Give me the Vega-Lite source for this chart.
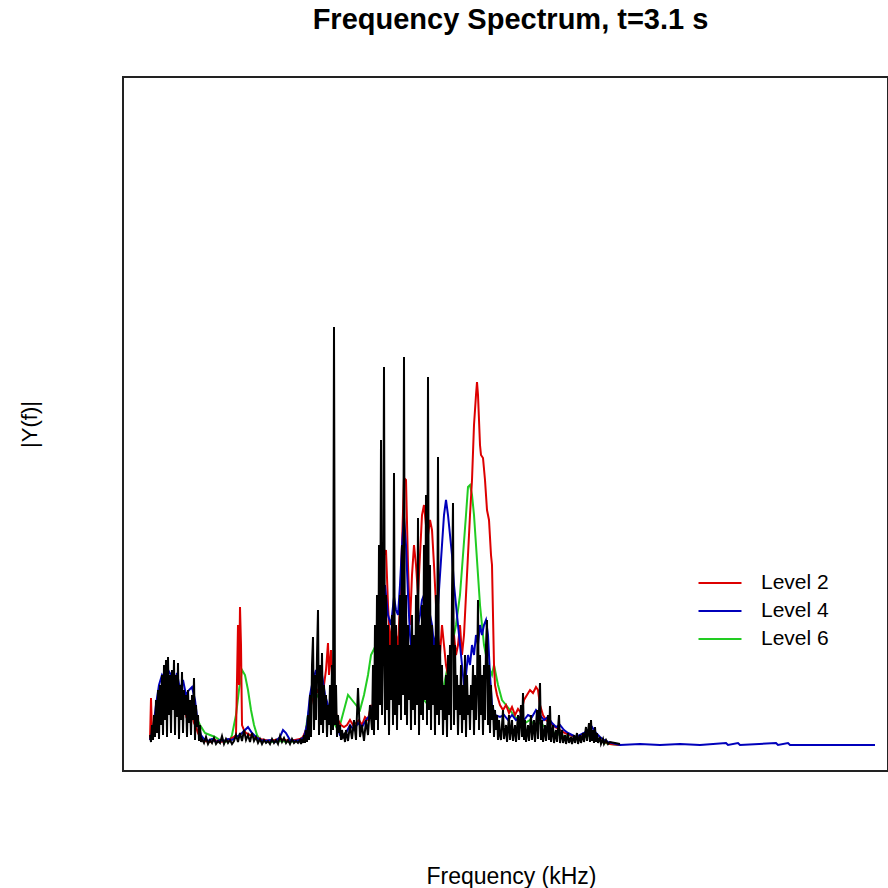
{
"$schema":"https://vega.github.io/schema/vega-lite/v6.json",
"width":765,"height":694,
"autosize":{"type":"none"},
"padding":{"left":123,"top":77,"right":0,"bottom":117},
"background":"white",
"title":{"text":"Frequency Spectrum, t=3.1 s","font":"Liberation Sans","fontSize":29,"fontWeight":"bold","color":"#000","anchor":"middle","baseline":"alphabetic","offset":19,"dx":5},
"config":{"view":{"stroke":"#222","strokeWidth":2}},
"datasets":{
"black":[{"f":0,"y":10},{"f":1,"y":3},{"f":2,"y":20},{"f":3,"y":5},{"f":4,"y":30},{"f":5,"y":8},{"f":6,"y":45},{"f":7,"y":12},{"f":8,"y":55},{"f":9,"y":6},{"f":10,"y":60},{"f":11,"y":20},{"f":12,"y":70},{"f":13,"y":10},{"f":14,"y":80},{"f":15,"y":25},{"f":16,"y":85},{"f":17,"y":8},{"f":18,"y":88},{"f":19,"y":30},{"f":20,"y":70},{"f":21,"y":12},{"f":22,"y":75},{"f":23,"y":35},{"f":24,"y":85},{"f":25,"y":10},{"f":26,"y":70},{"f":27,"y":28},{"f":28,"y":82},{"f":29,"y":6},{"f":30,"y":60},{"f":31,"y":25},{"f":32,"y":73},{"f":33,"y":12},{"f":34,"y":55},{"f":35,"y":30},{"f":36,"y":50},{"f":37,"y":8},{"f":38,"y":55},{"f":39,"y":22},{"f":40,"y":45},{"f":41,"y":10},{"f":42,"y":50},{"f":43,"y":25},{"f":44,"y":67},{"f":45,"y":5},{"f":46,"y":40},{"f":47,"y":18},{"f":48,"y":30},{"f":49,"y":4},{"f":50,"y":20},{"f":51,"y":3},
{"f":52,"y":6},{"f":54,"y":2},{"f":56,"y":8},{"f":58,"y":1},{"f":60,"y":5},{"f":62,"y":2},{"f":64,"y":7},{"f":66,"y":1},{"f":68,"y":4},{"f":70,"y":2},{"f":72,"y":9},{"f":74,"y":1},{"f":76,"y":6},{"f":78,"y":2},{"f":80,"y":5},{"f":82,"y":1},{"f":84,"y":4},{"f":86,"y":10},{"f":88,"y":3},{"f":90,"y":12},{"f":92,"y":4},{"f":94,"y":15},{"f":96,"y":5},{"f":98,"y":10},{"f":100,"y":3},{"f":102,"y":12},{"f":104,"y":4},{"f":106,"y":8},{"f":108,"y":2},{"f":110,"y":6},{"f":112,"y":1},{"f":114,"y":5},{"f":116,"y":2},{"f":118,"y":4},{"f":120,"y":1},{"f":122,"y":6},{"f":124,"y":2},{"f":126,"y":5},{"f":128,"y":1},{"f":130,"y":9},{"f":132,"y":3},{"f":134,"y":7},{"f":136,"y":2},{"f":138,"y":5},{"f":140,"y":1},{"f":142,"y":6},{"f":144,"y":2},{"f":146,"y":4},{"f":148,"y":2},
{"f":150,"y":5},{"f":151,"y":1},{"f":152,"y":6},{"f":153,"y":2},{"f":154,"y":10},{"f":155,"y":2},{"f":156,"y":15},{"f":157,"y":3},{"f":158,"y":30},{"f":159,"y":5},{"f":160,"y":50},{"f":161,"y":8},{"f":162,"y":80},{"f":163,"y":108},{"f":164,"y":15},{"f":165,"y":70},{"f":166,"y":25},{"f":167,"y":90},{"f":168,"y":135},{"f":169,"y":10},{"f":170,"y":80},{"f":171,"y":20},{"f":172,"y":92},{"f":173,"y":12},{"f":174,"y":60},{"f":175,"y":25},{"f":176,"y":50},{"f":177,"y":8},{"f":178,"y":40},{"f":179,"y":20},{"f":180,"y":60},{"f":181,"y":10},{"f":182,"y":80},{"f":183,"y":15},{"f":184,"y":418},{"f":185,"y":20},{"f":186,"y":60},{"f":187,"y":8},{"f":188,"y":30},{"f":189,"y":12},{"f":190,"y":20},{"f":191,"y":5},{"f":192,"y":15},{"f":193,"y":8},{"f":194,"y":10},{"f":195,"y":3},
{"f":196,"y":15},{"f":198,"y":4},{"f":200,"y":20},{"f":202,"y":6},{"f":204,"y":25},{"f":206,"y":5},{"f":208,"y":57},{"f":210,"y":8},{"f":212,"y":20},{"f":214,"y":4},{"f":216,"y":25},{"f":218,"y":10},{"f":220,"y":40},{"f":222,"y":15},
{"f":223,"y":80},{"f":224,"y":10},{"f":225,"y":120},{"f":226,"y":25},{"f":227,"y":150},{"f":228,"y":15},{"f":229,"y":200},{"f":230,"y":40},{"f":231,"y":305},{"f":232,"y":30},{"f":233,"y":90},{"f":234,"y":378},{"f":235,"y":20},{"f":236,"y":150},{"f":237,"y":35},{"f":238,"y":120},{"f":239,"y":10},{"f":240,"y":100},{"f":241,"y":45},{"f":242,"y":130},{"f":243,"y":20},{"f":244,"y":272},{"f":245,"y":30},{"f":246,"y":120},{"f":247,"y":15},{"f":248,"y":100},{"f":249,"y":40},{"f":250,"y":150},{"f":251,"y":25},{"f":252,"y":200},{"f":253,"y":50},{"f":254,"y":388},{"f":255,"y":30},{"f":256,"y":150},{"f":257,"y":20},{"f":258,"y":120},{"f":259,"y":45},{"f":260,"y":100},{"f":261,"y":15},{"f":262,"y":130},{"f":263,"y":35},{"f":264,"y":110},{"f":265,"y":20},{"f":266,"y":150},{"f":267,"y":40},{"f":268,"y":227},{"f":269,"y":10},{"f":270,"y":120},{"f":271,"y":30},{"f":272,"y":140},{"f":273,"y":25},{"f":274,"y":200},{"f":275,"y":45},{"f":276,"y":250},{"f":277,"y":20},{"f":278,"y":368},{"f":279,"y":35},{"f":280,"y":180},{"f":281,"y":15},{"f":282,"y":120},{"f":283,"y":40},{"f":284,"y":100},{"f":285,"y":10},{"f":286,"y":150},{"f":287,"y":30},{"f":288,"y":288},{"f":289,"y":20},{"f":290,"y":100},{"f":291,"y":35},{"f":292,"y":80},{"f":293,"y":10},{"f":294,"y":60},{"f":295,"y":25},{"f":296,"y":70},{"f":297,"y":8},{"f":298,"y":90},{"f":299,"y":30},{"f":300,"y":100},{"f":301,"y":15},{"f":302,"y":150},{"f":303,"y":242},{"f":304,"y":20},{"f":305,"y":100},{"f":306,"y":35},{"f":307,"y":70},{"f":308,"y":10},{"f":309,"y":60},{"f":310,"y":30},{"f":311,"y":80},{"f":312,"y":12},{"f":313,"y":60},{"f":314,"y":25},{"f":315,"y":90},{"f":316,"y":8},{"f":317,"y":70},{"f":318,"y":30},{"f":319,"y":50},{"f":320,"y":15},{"f":321,"y":60},{"f":322,"y":35},{"f":323,"y":80},{"f":324,"y":10},{"f":325,"y":70},{"f":326,"y":25},{"f":327,"y":60},{"f":328,"y":145},{"f":329,"y":15},{"f":330,"y":90},{"f":331,"y":30},{"f":332,"y":70},{"f":333,"y":10},{"f":334,"y":80},{"f":335,"y":25},{"f":336,"y":100},{"f":337,"y":125},{"f":338,"y":20},{"f":339,"y":80},{"f":340,"y":12},{"f":341,"y":60},{"f":342,"y":25},{"f":343,"y":40},{"f":344,"y":8},{"f":345,"y":35},{"f":346,"y":15},{"f":347,"y":30},{"f":348,"y":5},{"f":349,"y":25},{"f":350,"y":10},
{"f":351,"y":5},{"f":353,"y":35},{"f":354,"y":6},{"f":356,"y":20},{"f":357,"y":3},{"f":359,"y":30},{"f":360,"y":5},{"f":362,"y":25},{"f":363,"y":4},{"f":365,"y":20},{"f":366,"y":3},{"f":368,"y":30},{"f":369,"y":5},{"f":371,"y":40},{"f":372,"y":8},{"f":373,"y":52},{"f":374,"y":5},{"f":375,"y":25},{"f":376,"y":3},{"f":378,"y":20},{"f":379,"y":4},{"f":381,"y":30},{"f":382,"y":5},{"f":384,"y":25},{"f":385,"y":3},{"f":387,"y":35},{"f":388,"y":6},{"f":390,"y":62},{"f":391,"y":5},{"f":392,"y":25},{"f":393,"y":3},{"f":395,"y":20},{"f":396,"y":4},{"f":398,"y":30},{"f":399,"y":5},{"f":400,"y":39},{"f":401,"y":3},{"f":403,"y":20},{"f":404,"y":2},{"f":406,"y":15},{"f":407,"y":3},{"f":409,"y":30},{"f":410,"y":2},{"f":412,"y":15},{"f":413,"y":2},{"f":415,"y":10},{"f":416,"y":1},{"f":418,"y":12},{"f":419,"y":2},{"f":421,"y":8},{"f":422,"y":1},{"f":424,"y":10},{"f":425,"y":2},{"f":427,"y":12},{"f":428,"y":1},{"f":430,"y":10},{"f":431,"y":2},{"f":433,"y":12},{"f":434,"y":3},{"f":436,"y":18},{"f":437,"y":4},{"f":439,"y":22},{"f":440,"y":3},{"f":441,"y":25},{"f":442,"y":4},{"f":443,"y":15},{"f":444,"y":2},{"f":445,"y":18},{"f":446,"y":3},{"f":447,"y":12},{"f":448,"y":2},{"f":450,"y":8},{"f":451,"y":1},{"f":453,"y":6},{"f":454,"y":1},{"f":456,"y":5},{"f":458,"y":1},{"f":460,"y":3},{"f":465,"y":2},{"f":470,"y":1}],
"red":[{"f":0,"y":5},{"f":1,"y":47},{"f":2,"y":10},{"f":4,"y":15},{"f":6,"y":25},{"f":8,"y":20},{"f":10,"y":30},{"f":12,"y":25},{"f":14,"y":35},{"f":16,"y":30},{"f":18,"y":40},{"f":20,"y":35},{"f":22,"y":50},{"f":23,"y":55},{"f":24,"y":45},{"f":26,"y":52},{"f":28,"y":40},{"f":30,"y":45},{"f":32,"y":35},{"f":34,"y":40},{"f":36,"y":30},{"f":38,"y":35},{"f":40,"y":25},{"f":42,"y":30},{"f":44,"y":22},{"f":46,"y":18},{"f":48,"y":12},{"f":50,"y":8},{"f":52,"y":5},
{"f":55,"y":4},{"f":60,"y":3},{"f":65,"y":5},{"f":70,"y":3},{"f":75,"y":4},{"f":80,"y":6},{"f":84,"y":8},{"f":86,"y":10},{"f":88,"y":120},{"f":89,"y":60},{"f":90,"y":138},{"f":91,"y":100},{"f":92,"y":20},{"f":94,"y":15},{"f":96,"y":12},{"f":100,"y":10},{"f":105,"y":8},{"f":110,"y":6},{"f":115,"y":5},{"f":120,"y":4},{"f":125,"y":5},{"f":130,"y":6},{"f":135,"y":5},{"f":140,"y":4},{"f":145,"y":5},{"f":150,"y":6},
{"f":153,"y":8},{"f":156,"y":15},{"f":159,"y":30},{"f":162,"y":45},{"f":165,"y":50},{"f":168,"y":55},{"f":171,"y":48},{"f":174,"y":60},{"f":176,"y":75},{"f":178,"y":102},{"f":179,"y":70},{"f":181,"y":95},{"f":183,"y":50},{"f":185,"y":35},{"f":188,"y":25},{"f":191,"y":20},{"f":194,"y":18},{"f":197,"y":20},{"f":200,"y":25},{"f":203,"y":20},{"f":206,"y":22},{"f":209,"y":25},{"f":212,"y":20},{"f":215,"y":28},{"f":218,"y":25},{"f":221,"y":40},
{"f":223,"y":30},{"f":226,"y":80},{"f":228,"y":110},{"f":230,"y":130},{"f":232,"y":160},{"f":234,"y":190},{"f":236,"y":195},{"f":238,"y":140},{"f":240,"y":100},{"f":242,"y":120},{"f":244,"y":90},{"f":246,"y":110},{"f":248,"y":100},{"f":250,"y":140},{"f":252,"y":200},{"f":254,"y":267},{"f":256,"y":265},{"f":258,"y":180},{"f":260,"y":120},{"f":262,"y":170},{"f":264,"y":200},{"f":266,"y":180},{"f":268,"y":150},{"f":270,"y":190},{"f":272,"y":230},{"f":274,"y":240},{"f":276,"y":220},{"f":278,"y":210},{"f":280,"y":225},{"f":282,"y":215},{"f":284,"y":180},{"f":286,"y":140},{"f":288,"y":110},{"f":290,"y":90},{"f":292,"y":120},{"f":294,"y":100},{"f":296,"y":80},{"f":298,"y":70},{"f":300,"y":90},{"f":302,"y":100},{"f":304,"y":110},{"f":306,"y":90},{"f":308,"y":100},{"f":310,"y":120},{"f":312,"y":90},{"f":314,"y":110},{"f":316,"y":150},{"f":318,"y":190},{"f":320,"y":230},{"f":322,"y":265},{"f":324,"y":320},{"f":326,"y":350},{"f":327,"y":363},{"f":328,"y":350},{"f":330,"y":300},{"f":331,"y":290},{"f":333,"y":287},{"f":335,"y":265},{"f":337,"y":235},{"f":339,"y":225},{"f":341,"y":190},{"f":342,"y":180},{"f":343,"y":130},{"f":344,"y":80},{"f":345,"y":60},{"f":347,"y":50},{"f":350,"y":40},
{"f":353,"y":35},{"f":356,"y":40},{"f":359,"y":32},{"f":362,"y":38},{"f":365,"y":30},{"f":368,"y":36},{"f":371,"y":32},{"f":374,"y":45},{"f":377,"y":50},{"f":380,"y":55},{"f":383,"y":52},{"f":386,"y":58},{"f":388,"y":55},{"f":390,"y":40},{"f":393,"y":30},{"f":396,"y":25},{"f":400,"y":22},{"f":405,"y":18},{"f":410,"y":15},{"f":415,"y":12},{"f":420,"y":10},{"f":425,"y":8},{"f":430,"y":8},{"f":435,"y":10},{"f":440,"y":12},{"f":445,"y":8},{"f":450,"y":5},{"f":455,"y":3},{"f":460,"y":1},{"f":470,"y":0}],
"blue":[{"f":0,"y":5},{"f":3,"y":15},{"f":6,"y":40},{"f":9,"y":60},{"f":12,"y":70},{"f":15,"y":65},{"f":18,"y":75},{"f":21,"y":70},{"f":24,"y":60},{"f":27,"y":72},{"f":30,"y":55},{"f":33,"y":65},{"f":36,"y":50},{"f":39,"y":55},{"f":42,"y":58},{"f":45,"y":45},{"f":48,"y":20},{"f":51,"y":10},{"f":54,"y":6},
{"f":58,"y":4},{"f":62,"y":6},{"f":66,"y":3},{"f":70,"y":5},{"f":74,"y":4},{"f":78,"y":6},{"f":82,"y":5},{"f":86,"y":8},{"f":90,"y":10},{"f":95,"y":15},{"f":98,"y":18},{"f":102,"y":12},{"f":106,"y":8},{"f":110,"y":5},{"f":115,"y":4},{"f":120,"y":5},{"f":125,"y":3},{"f":130,"y":8},{"f":133,"y":15},{"f":136,"y":12},{"f":140,"y":5},{"f":145,"y":4},{"f":150,"y":5},
{"f":154,"y":8},{"f":157,"y":20},{"f":160,"y":50},{"f":163,"y":65},{"f":166,"y":75},{"f":169,"y":60},{"f":172,"y":70},{"f":175,"y":50},{"f":178,"y":40},{"f":181,"y":35},{"f":184,"y":30},{"f":187,"y":20},{"f":190,"y":10},{"f":193,"y":8},{"f":196,"y":12},{"f":200,"y":20},{"f":204,"y":15},{"f":208,"y":22},{"f":212,"y":18},{"f":216,"y":25},{"f":220,"y":30},
{"f":223,"y":40},{"f":226,"y":100},{"f":229,"y":140},{"f":232,"y":150},{"f":235,"y":160},{"f":238,"y":130},{"f":241,"y":120},{"f":244,"y":148},{"f":246,"y":135},{"f":248,"y":130},{"f":250,"y":160},{"f":252,"y":200},{"f":254,"y":228},{"f":256,"y":200},{"f":258,"y":150},{"f":260,"y":110},{"f":262,"y":90},{"f":264,"y":80},{"f":266,"y":100},{"f":268,"y":120},{"f":270,"y":130},{"f":272,"y":145},{"f":274,"y":150},{"f":276,"y":140},{"f":278,"y":150},{"f":280,"y":130},{"f":282,"y":120},{"f":284,"y":100},{"f":286,"y":110},{"f":288,"y":140},{"f":290,"y":170},{"f":292,"y":200},{"f":294,"y":230},{"f":296,"y":245},{"f":298,"y":230},{"f":300,"y":210},{"f":302,"y":190},{"f":304,"y":160},{"f":306,"y":140},{"f":308,"y":120},{"f":310,"y":100},{"f":312,"y":80},{"f":314,"y":60},{"f":316,"y":70},{"f":318,"y":90},{"f":320,"y":80},{"f":322,"y":100},{"f":324,"y":90},{"f":326,"y":110},{"f":328,"y":100},{"f":330,"y":120},{"f":332,"y":110},{"f":334,"y":120},{"f":336,"y":125},{"f":338,"y":110},{"f":340,"y":70},{"f":342,"y":40},{"f":345,"y":30},
{"f":350,"y":28},{"f":354,"y":30},{"f":358,"y":25},{"f":362,"y":30},{"f":366,"y":25},{"f":370,"y":28},{"f":374,"y":25},{"f":378,"y":30},{"f":382,"y":28},{"f":386,"y":35},{"f":390,"y":30},{"f":394,"y":25},{"f":398,"y":28},{"f":402,"y":22},{"f":406,"y":18},{"f":410,"y":20},{"f":414,"y":15},{"f":418,"y":12},{"f":422,"y":10},{"f":426,"y":8},{"f":430,"y":10},{"f":434,"y":12},{"f":438,"y":15},{"f":442,"y":18},{"f":446,"y":12},{"f":450,"y":8},{"f":454,"y":5},{"f":458,"y":3},{"f":462,"y":2},{"f":466,"y":1},{"f":470,"y":0},{"f":490,"y":1},{"f":510,"y":0},{"f":530,"y":1},{"f":550,"y":0},{"f":576,"y":2},{"f":578,"y":0},{"f":588,"y":2},{"f":590,"y":0},{"f":626,"y":2},{"f":628,"y":0},{"f":638,"y":2},{"f":640,"y":0},{"f":680,"y":0},{"f":725,"y":0}],
"green":[{"f":0,"y":5},{"f":5,"y":30},{"f":10,"y":45},{"f":15,"y":50},{"f":20,"y":55},{"f":25,"y":50},{"f":30,"y":45},{"f":35,"y":40},{"f":40,"y":35},{"f":45,"y":30},{"f":50,"y":20},{"f":55,"y":12},{"f":60,"y":10},{"f":65,"y":8},{"f":70,"y":5},
{"f":75,"y":3},{"f":80,"y":5},{"f":82,"y":10},{"f":86,"y":30},{"f":89,"y":55},{"f":92,"y":75},{"f":95,"y":70},{"f":98,"y":55},{"f":101,"y":35},{"f":104,"y":20},{"f":107,"y":10},{"f":110,"y":5},{"f":120,"y":3},{"f":130,"y":4},{"f":140,"y":3},{"f":150,"y":5},
{"f":155,"y":10},{"f":158,"y":30},{"f":161,"y":45},{"f":164,"y":55},{"f":167,"y":50},{"f":170,"y":45},{"f":173,"y":40},{"f":176,"y":35},{"f":179,"y":30},{"f":182,"y":25},{"f":185,"y":20},{"f":188,"y":15},{"f":190,"y":20},{"f":194,"y":35},{"f":198,"y":50},{"f":202,"y":45},{"f":206,"y":40},{"f":210,"y":35},{"f":214,"y":50},{"f":218,"y":70},{"f":221,"y":90},
{"f":226,"y":100},{"f":230,"y":105},{"f":234,"y":110},{"f":238,"y":100},{"f":242,"y":95},{"f":246,"y":100},{"f":250,"y":90},{"f":254,"y":80},{"f":258,"y":70},{"f":262,"y":60},{"f":266,"y":50},{"f":270,"y":45},{"f":274,"y":45},{"f":278,"y":40},{"f":282,"y":45},{"f":286,"y":50},{"f":290,"y":55},{"f":294,"y":60},{"f":298,"y":80},{"f":302,"y":100},{"f":306,"y":120},{"f":310,"y":150},{"f":313,"y":190},{"f":316,"y":230},{"f":318,"y":258},{"f":320,"y":260},{"f":322,"y":250},{"f":324,"y":230},{"f":326,"y":200},{"f":328,"y":170},{"f":330,"y":140},{"f":332,"y":120},{"f":334,"y":100},{"f":336,"y":90},{"f":338,"y":80},{"f":340,"y":75},{"f":342,"y":70},{"f":344,"y":80},{"f":346,"y":70},{"f":348,"y":60},{"f":352,"y":45},{"f":356,"y":40},{"f":360,"y":35},
{"f":365,"y":28},{"f":370,"y":25},{"f":375,"y":22},{"f":380,"y":25},{"f":385,"y":20},{"f":390,"y":22},{"f":395,"y":18},{"f":400,"y":15},{"f":405,"y":12},{"f":410,"y":10},{"f":415,"y":8},{"f":420,"y":10},{"f":425,"y":8},{"f":430,"y":6},{"f":435,"y":8},{"f":440,"y":10},{"f":445,"y":6},{"f":450,"y":4},{"f":455,"y":2},{"f":460,"y":1},{"f":470,"y":0}]
},
"encoding":{
"x":{"field":"f","type":"quantitative","scale":{"domain":[-27,738],"nice":false,"zero":false},"axis":{"title":"Frequency (kHz)","domain":false,"ticks":false,"labels":false,"grid":false,"titleFont":"Liberation Sans","titleFontSize":23,"titleFontWeight":"normal","titleColor":"#000","titleX":388,"titleY":105,"titleAlign":"center","titleBaseline":"middle"}},
"y":{"field":"y","type":"quantitative","scale":{"domain":[-26,668],"nice":false,"zero":false},"axis":{"title":"|Y(f)|","domain":false,"ticks":false,"labels":false,"grid":false,"titleFont":"Liberation Sans","titleFontSize":22,"titleFontWeight":"normal","titleColor":"#000","titleX":-94,"titleY":347,"titleAngle":270,"titleAlign":"center","titleBaseline":"middle"}}
},
"layer":[
{"data":{"name":"green"},"mark":{"type":"line","strokeWidth":2},"encoding":{"color":{"datum":"Level 6","type":"nominal","scale":{"domain":["Level 2","Level 4","Level 6"],"range":["#dd0000","#0000bb","#22cc22"]},"legend":{"orient":"none","legendX":585,"legendY":494,"title":null,"symbolType":"M-2,0H2","symbolSize":462,"symbolStrokeWidth":2,"labelFont":"Liberation Sans","labelFontSize":21,"labelColor":"#000","labelOffset":29,"padding":0,"rowPadding":6}}}},
{"data":{"name":"red"},"mark":{"type":"line","strokeWidth":2},"encoding":{"color":{"datum":"Level 2","type":"nominal"}}},
{"data":{"name":"blue"},"mark":{"type":"line","strokeWidth":2},"encoding":{"color":{"datum":"Level 4","type":"nominal"}}},
{"data":{"name":"black"},"mark":{"type":"line","strokeWidth":2,"color":"#000"},"encoding":{}}
]
}
